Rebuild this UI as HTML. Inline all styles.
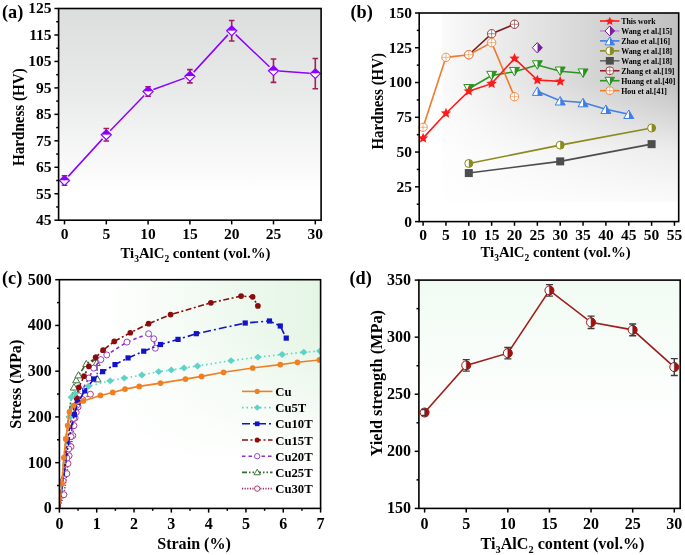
<!DOCTYPE html><html><head><meta charset="utf-8"><style>html,body{margin:0;padding:0;background:#fff;width:685px;height:555px;overflow:hidden}svg{display:block;will-change:transform}</style></head><body>
<svg width="685" height="555" viewBox="0 0 685 555" font-family="'Liberation Serif', serif" font-weight="bold">
<defs>
<linearGradient id="ga" x1="0" y1="0" x2="0" y2="1"><stop offset="0" stop-color="#dcdedd"/><stop offset="0.4" stop-color="#e9ebea"/><stop offset="0.88" stop-color="#ffffff"/></linearGradient>
<linearGradient id="gb" gradientUnits="userSpaceOnUse" x1="442" y1="0" x2="679" y2="0"><stop offset="0" stop-color="#fafafa"/><stop offset="1" stop-color="#c0c0c0"/></linearGradient>
<linearGradient id="gb2" gradientUnits="userSpaceOnUse" x1="0" y1="82" x2="0" y2="202"><stop offset="0" stop-color="#ffffff" stop-opacity="0"/><stop offset="0.57" stop-color="#ffffff" stop-opacity="0.7"/><stop offset="1" stop-color="#ffffff" stop-opacity="0.93"/></linearGradient>
<linearGradient id="gc" gradientUnits="userSpaceOnUse" x1="98" y1="0" x2="321" y2="0"><stop offset="0" stop-color="#ffffff"/><stop offset="1" stop-color="#e4f5e5"/></linearGradient>
<linearGradient id="gc2" gradientUnits="userSpaceOnUse" x1="0" y1="330" x2="0" y2="470"><stop offset="0" stop-color="#ffffff" stop-opacity="0"/><stop offset="1" stop-color="#ffffff" stop-opacity="1"/></linearGradient>
<linearGradient id="gd" x1="0" y1="0" x2="0" y2="1"><stop offset="0" stop-color="#f1fbf3"/><stop offset="0.65" stop-color="#ffffff"/></linearGradient>
</defs>
<rect x="58.6" y="8.5" width="262.5" height="211.7" fill="url(#ga)"/>
<path fill="none" stroke="#8c00ff" stroke-width="1.5" d="M68.28 176.37L102.52 138.87M110.19 130.71L144.21 95.5M153.36 89.56L184.64 78.17M193.69 72.13L227.91 34.87M235.75 34.62L269.45 66.83M279.09 71.09L309.71 73.22"/>
<path d="M64.5 175.75V185.27M61.7 175.75H67.3M61.7 185.27H67.3" stroke="#a0205a" stroke-width="1.6" fill="none"/>
<path d="M59.4 180.51L64.5 175.61L69.6 180.51Z" fill="#8c00ff"/>
<path d="M59.4 180.51L64.5 185.41L69.6 180.51Z" fill="#fff"/>
<path d="M59.4 180.51L64.5 175.61L69.6 180.51L64.5 185.41Z" fill="none" stroke="#8c00ff" stroke-width="1.1"/>
<path d="M106.3 128.52V140.95M103.5 128.52H109.1M103.5 140.95H109.1" stroke="#a0205a" stroke-width="1.6" fill="none"/>
<path d="M101.2 134.73L106.3 129.83L111.4 134.73Z" fill="#8c00ff"/>
<path d="M101.2 134.73L106.3 139.63L111.4 134.73Z" fill="#fff"/>
<path d="M101.2 134.73L106.3 129.83L111.4 134.73L106.3 139.63Z" fill="none" stroke="#8c00ff" stroke-width="1.1"/>
<path d="M148.1 86.71V96.23M145.3 86.71H150.9M145.3 96.23H150.9" stroke="#a0205a" stroke-width="1.6" fill="none"/>
<path d="M143 91.47L148.1 86.57L153.2 91.47Z" fill="#8c00ff"/>
<path d="M143 91.47L148.1 96.37L153.2 91.47Z" fill="#fff"/>
<path d="M143 91.47L148.1 86.57L153.2 91.47L148.1 96.37Z" fill="none" stroke="#8c00ff" stroke-width="1.1"/>
<path d="M189.9 69.64V82.87M187.1 69.64H192.7M187.1 82.87H192.7" stroke="#a0205a" stroke-width="1.6" fill="none"/>
<path d="M184.8 76.26L189.9 71.36L195 76.26Z" fill="#8c00ff"/>
<path d="M184.8 76.26L189.9 81.16L195 76.26Z" fill="#fff"/>
<path d="M184.8 76.26L189.9 71.36L195 76.26L189.9 81.16Z" fill="none" stroke="#8c00ff" stroke-width="1.1"/>
<path d="M231.7 20.43V41.07M228.9 20.43H234.5M228.9 41.07H234.5" stroke="#a0205a" stroke-width="1.6" fill="none"/>
<path d="M226.6 30.75L231.7 25.85L236.8 30.75Z" fill="#8c00ff"/>
<path d="M226.6 30.75L231.7 35.65L236.8 30.75Z" fill="#fff"/>
<path d="M226.6 30.75L231.7 25.85L236.8 30.75L231.7 35.65Z" fill="none" stroke="#8c00ff" stroke-width="1.1"/>
<path d="M273.5 59.06V82.34M270.7 59.06H276.3M270.7 82.34H276.3" stroke="#a0205a" stroke-width="1.6" fill="none"/>
<path d="M268.4 70.7L273.5 65.8L278.6 70.7Z" fill="#8c00ff"/>
<path d="M268.4 70.7L273.5 75.6L278.6 70.7Z" fill="#fff"/>
<path d="M268.4 70.7L273.5 65.8L278.6 70.7L273.5 75.6Z" fill="none" stroke="#8c00ff" stroke-width="1.1"/>
<path d="M315.3 58.53V88.69M312.5 58.53H318.1M312.5 88.69H318.1" stroke="#a0205a" stroke-width="1.6" fill="none"/>
<path d="M310.2 73.61L315.3 68.71L320.4 73.61Z" fill="#8c00ff"/>
<path d="M310.2 73.61L315.3 78.51L320.4 73.61Z" fill="#fff"/>
<path d="M310.2 73.61L315.3 68.71L320.4 73.61L315.3 78.51Z" fill="none" stroke="#8c00ff" stroke-width="1.1"/>
<rect x="58.6" y="8.5" width="262.5" height="211.7" fill="none" stroke="#000" stroke-width="1.6"/>
<line x1="58.6" y1="220.2" x2="54.4" y2="220.2" stroke="#000" stroke-width="1.5"/>
<line x1="58.6" y1="193.74" x2="54.4" y2="193.74" stroke="#000" stroke-width="1.5"/>
<line x1="58.6" y1="167.28" x2="54.4" y2="167.28" stroke="#000" stroke-width="1.5"/>
<line x1="58.6" y1="140.82" x2="54.4" y2="140.82" stroke="#000" stroke-width="1.5"/>
<line x1="58.6" y1="114.36" x2="54.4" y2="114.36" stroke="#000" stroke-width="1.5"/>
<line x1="58.6" y1="87.9" x2="54.4" y2="87.9" stroke="#000" stroke-width="1.5"/>
<line x1="58.6" y1="61.44" x2="54.4" y2="61.44" stroke="#000" stroke-width="1.5"/>
<line x1="58.6" y1="34.98" x2="54.4" y2="34.98" stroke="#000" stroke-width="1.5"/>
<line x1="58.6" y1="8.52" x2="54.4" y2="8.52" stroke="#000" stroke-width="1.5"/>
<line x1="58.6" y1="206.97" x2="56.2" y2="206.97" stroke="#000" stroke-width="1.5"/>
<line x1="58.6" y1="180.51" x2="56.2" y2="180.51" stroke="#000" stroke-width="1.5"/>
<line x1="58.6" y1="154.05" x2="56.2" y2="154.05" stroke="#000" stroke-width="1.5"/>
<line x1="58.6" y1="127.59" x2="56.2" y2="127.59" stroke="#000" stroke-width="1.5"/>
<line x1="58.6" y1="101.13" x2="56.2" y2="101.13" stroke="#000" stroke-width="1.5"/>
<line x1="58.6" y1="74.67" x2="56.2" y2="74.67" stroke="#000" stroke-width="1.5"/>
<line x1="58.6" y1="48.21" x2="56.2" y2="48.21" stroke="#000" stroke-width="1.5"/>
<line x1="58.6" y1="21.75" x2="56.2" y2="21.75" stroke="#000" stroke-width="1.5"/>
<line x1="64.5" y1="220.2" x2="64.5" y2="224.4" stroke="#000" stroke-width="1.5"/>
<line x1="106.3" y1="220.2" x2="106.3" y2="224.4" stroke="#000" stroke-width="1.5"/>
<line x1="148.1" y1="220.2" x2="148.1" y2="224.4" stroke="#000" stroke-width="1.5"/>
<line x1="189.9" y1="220.2" x2="189.9" y2="224.4" stroke="#000" stroke-width="1.5"/>
<line x1="231.7" y1="220.2" x2="231.7" y2="224.4" stroke="#000" stroke-width="1.5"/>
<line x1="273.5" y1="220.2" x2="273.5" y2="224.4" stroke="#000" stroke-width="1.5"/>
<line x1="315.3" y1="220.2" x2="315.3" y2="224.4" stroke="#000" stroke-width="1.5"/>
<text x="51.6" y="225.1" font-size="15.5" text-anchor="end">45</text>
<text x="51.6" y="198.64" font-size="15.5" text-anchor="end">55</text>
<text x="51.6" y="172.18" font-size="15.5" text-anchor="end">65</text>
<text x="51.6" y="145.72" font-size="15.5" text-anchor="end">75</text>
<text x="51.6" y="119.26" font-size="15.5" text-anchor="end">85</text>
<text x="51.6" y="92.8" font-size="15.5" text-anchor="end">95</text>
<text x="51.6" y="66.34" font-size="15.5" text-anchor="end">105</text>
<text x="51.6" y="39.88" font-size="15.5" text-anchor="end">115</text>
<text x="51.6" y="13.42" font-size="15.5" text-anchor="end">125</text>
<text x="64.5" y="239" font-size="15.5" text-anchor="middle">0</text>
<text x="106.3" y="239" font-size="15.5" text-anchor="middle">5</text>
<text x="148.1" y="239" font-size="15.5" text-anchor="middle">10</text>
<text x="189.9" y="239" font-size="15.5" text-anchor="middle">15</text>
<text x="231.7" y="239" font-size="15.5" text-anchor="middle">20</text>
<text x="273.5" y="239" font-size="15.5" text-anchor="middle">25</text>
<text x="315.3" y="239" font-size="15.5" text-anchor="middle">30</text>
<text x="120.5" y="257.9" font-size="15.5" textLength="150" lengthAdjust="spacingAndGlyphs">Ti<tspan font-size="9.92" dy="3.72">3</tspan><tspan dy="-3.72">AlC</tspan><tspan font-size="9.92" dy="3.72">2</tspan><tspan dy="-3.72"> content (vol.%)</tspan></text>
<text transform="translate(23.6,117.15) rotate(-90)" font-size="16" text-anchor="middle" textLength="97.8" lengthAdjust="spacingAndGlyphs">Hardness (HV)</text>
<text x="2.0" y="17.8" font-size="18.3">(a)</text>
<rect x="419.2" y="13" width="259.50000000000006" height="208.6" fill="#fff"/>
<rect x="442" y="13" width="236.70000000000005" height="189" fill="url(#gb)"/>
<rect x="442" y="13" width="236.70000000000005" height="189" fill="url(#gb2)"/>
<polyline fill="none" stroke="#4d4d4d" stroke-width="1.6" points="468.8,173.06 560.2,161.38 651.6,144.14"/>
<polyline fill="none" stroke="#8a8a1e" stroke-width="1.6" points="468.8,163.47 560.2,145.11 651.6,128.01"/>
<polyline fill="none" stroke="#3f7fe6" stroke-width="1.6" points="537.35,91.15 560.2,100.75 583.05,102.56 605.9,109.23 628.75,114.24"/>
<polyline fill="none" stroke="#2a9420" stroke-width="1.6" points="468.8,88.79 491.65,75.58 514.5,71.68 537.35,65.01 560.2,71.27 583.05,73.21"/>
<polyline fill="none" stroke="#7b1c1c" stroke-width="1.6" points="468.8,54.72 491.65,33.72 514.5,24.26"/>
<polyline fill="none" stroke="#f07a2a" stroke-width="1.6" points="423.1,127.31 445.95,57.36 468.8,54.72 491.65,42.62 514.5,96.72"/>
<polyline fill="none" stroke="#ff1a1a" stroke-width="1.6" points="423.1,138.16 445.95,113.26 468.8,91.15 491.65,83.64 514.5,58.47 537.35,80.03 560.2,81.42"/>
<rect x="464.8" y="169.06" width="8" height="8" fill="#4d4d4d"/>
<rect x="556.2" y="157.38" width="8" height="8" fill="#4d4d4d"/>
<rect x="647.6" y="140.14" width="8" height="8" fill="#4d4d4d"/>
<circle cx="468.8" cy="163.47" r="4" fill="#fff" stroke="#8a8a1e" stroke-width="1.0"/>
<path d="M468.8 159.47A4 4 0 0 1 468.8 167.47Z" fill="#8a8a1e"/>
<circle cx="560.2" cy="145.11" r="4" fill="#fff" stroke="#8a8a1e" stroke-width="1.0"/>
<path d="M560.2 141.11A4 4 0 0 1 560.2 149.11Z" fill="#8a8a1e"/>
<circle cx="651.6" cy="128.01" r="4" fill="#fff" stroke="#8a8a1e" stroke-width="1.0"/>
<path d="M651.6 124.01A4 4 0 0 1 651.6 132.01Z" fill="#8a8a1e"/>
<path d="M537.35 86.9L542.35 95.4L537.35 95.4Z" fill="#3f7fe6"/>
<path d="M537.35 86.9L532.35 95.4L537.35 95.4Z" fill="#fff"/>
<path d="M537.35 86.9L542.35 95.4L532.35 95.4Z" fill="none" stroke="#3f7fe6" stroke-width="1.0"/>
<path d="M560.2 96.5L565.2 105L560.2 105Z" fill="#3f7fe6"/>
<path d="M560.2 96.5L555.2 105L560.2 105Z" fill="#fff"/>
<path d="M560.2 96.5L565.2 105L555.2 105Z" fill="none" stroke="#3f7fe6" stroke-width="1.0"/>
<path d="M583.05 98.31L588.05 106.81L583.05 106.81Z" fill="#3f7fe6"/>
<path d="M583.05 98.31L578.05 106.81L583.05 106.81Z" fill="#fff"/>
<path d="M583.05 98.31L588.05 106.81L578.05 106.81Z" fill="none" stroke="#3f7fe6" stroke-width="1.0"/>
<path d="M605.9 104.98L610.9 113.48L605.9 113.48Z" fill="#3f7fe6"/>
<path d="M605.9 104.98L600.9 113.48L605.9 113.48Z" fill="#fff"/>
<path d="M605.9 104.98L610.9 113.48L600.9 113.48Z" fill="none" stroke="#3f7fe6" stroke-width="1.0"/>
<path d="M628.75 109.99L633.75 118.49L628.75 118.49Z" fill="#3f7fe6"/>
<path d="M628.75 109.99L623.75 118.49L628.75 118.49Z" fill="#fff"/>
<path d="M628.75 109.99L633.75 118.49L623.75 118.49Z" fill="none" stroke="#3f7fe6" stroke-width="1.0"/>
<path d="M468.8 93.04L473.8 84.54L468.8 84.54Z" fill="#2a9420"/>
<path d="M468.8 93.04L463.8 84.54L468.8 84.54Z" fill="#fff"/>
<path d="M468.8 93.04L473.8 84.54L463.8 84.54Z" fill="none" stroke="#2a9420" stroke-width="1.0"/>
<path d="M491.65 79.83L496.65 71.33L491.65 71.33Z" fill="#2a9420"/>
<path d="M491.65 79.83L486.65 71.33L491.65 71.33Z" fill="#fff"/>
<path d="M491.65 79.83L496.65 71.33L486.65 71.33Z" fill="none" stroke="#2a9420" stroke-width="1.0"/>
<path d="M514.5 75.93L519.5 67.43L514.5 67.43Z" fill="#2a9420"/>
<path d="M514.5 75.93L509.5 67.43L514.5 67.43Z" fill="#fff"/>
<path d="M514.5 75.93L519.5 67.43L509.5 67.43Z" fill="none" stroke="#2a9420" stroke-width="1.0"/>
<path d="M537.35 69.26L542.35 60.76L537.35 60.76Z" fill="#2a9420"/>
<path d="M537.35 69.26L532.35 60.76L537.35 60.76Z" fill="#fff"/>
<path d="M537.35 69.26L542.35 60.76L532.35 60.76Z" fill="none" stroke="#2a9420" stroke-width="1.0"/>
<path d="M560.2 75.52L565.2 67.02L560.2 67.02Z" fill="#2a9420"/>
<path d="M560.2 75.52L555.2 67.02L560.2 67.02Z" fill="#fff"/>
<path d="M560.2 75.52L565.2 67.02L555.2 67.02Z" fill="none" stroke="#2a9420" stroke-width="1.0"/>
<path d="M583.05 77.46L588.05 68.96L583.05 68.96Z" fill="#2a9420"/>
<path d="M583.05 77.46L578.05 68.96L583.05 68.96Z" fill="#fff"/>
<path d="M583.05 77.46L588.05 68.96L578.05 68.96Z" fill="none" stroke="#2a9420" stroke-width="1.0"/>
<circle cx="468.8" cy="54.72" r="4.2" fill="#fff" stroke="#7b1c1c" stroke-width="1.0" stroke-opacity="0.8"/>
<path d="M464.6 54.72H473M468.8 50.52V58.92" stroke="#7b1c1c" stroke-width="0.7" stroke-opacity="0.75"/>
<circle cx="491.65" cy="33.72" r="4.2" fill="#fff" stroke="#7b1c1c" stroke-width="1.0" stroke-opacity="0.8"/>
<path d="M487.45 33.72H495.85M491.65 29.52V37.92" stroke="#7b1c1c" stroke-width="0.7" stroke-opacity="0.75"/>
<circle cx="514.5" cy="24.26" r="4.2" fill="#fff" stroke="#7b1c1c" stroke-width="1.0" stroke-opacity="0.8"/>
<path d="M510.3 24.26H518.7M514.5 20.06V28.46" stroke="#7b1c1c" stroke-width="0.7" stroke-opacity="0.75"/>
<circle cx="423.1" cy="127.31" r="4.2" fill="#fff" stroke="#f07a2a" stroke-width="1.0" stroke-opacity="0.8"/>
<path d="M418.9 127.31H427.3M423.1 123.11V131.51" stroke="#f07a2a" stroke-width="0.7" stroke-opacity="0.75"/>
<circle cx="445.95" cy="57.36" r="4.2" fill="#fff" stroke="#f07a2a" stroke-width="1.0" stroke-opacity="0.8"/>
<path d="M441.75 57.36H450.15M445.95 53.16V61.56" stroke="#f07a2a" stroke-width="0.7" stroke-opacity="0.75"/>
<circle cx="468.8" cy="54.72" r="4.2" fill="#fff" stroke="#f07a2a" stroke-width="1.0" stroke-opacity="0.8"/>
<path d="M464.6 54.72H473M468.8 50.52V58.92" stroke="#f07a2a" stroke-width="0.7" stroke-opacity="0.75"/>
<circle cx="491.65" cy="42.62" r="4.2" fill="#fff" stroke="#f07a2a" stroke-width="1.0" stroke-opacity="0.8"/>
<path d="M487.45 42.62H495.85M491.65 38.42V46.82" stroke="#f07a2a" stroke-width="0.7" stroke-opacity="0.75"/>
<circle cx="514.5" cy="96.72" r="4.2" fill="#fff" stroke="#f07a2a" stroke-width="1.0" stroke-opacity="0.8"/>
<path d="M510.3 96.72H518.7M514.5 92.52V100.92" stroke="#f07a2a" stroke-width="0.7" stroke-opacity="0.75"/>
<path d="M423.1,132.76 L424.57,136.14 L428.24,136.49 L425.48,138.93 L426.27,142.53 L423.1,140.66 L419.93,142.53 L420.72,138.93 L417.96,136.49 L421.63,136.14Z" fill="#ff1a1a"/>
<path d="M445.95,107.86 L447.42,111.24 L451.09,111.6 L448.33,114.04 L449.12,117.63 L445.95,115.76 L442.78,117.63 L443.57,114.04 L440.81,111.6 L444.48,111.24Z" fill="#ff1a1a"/>
<path d="M468.8,85.75 L470.27,89.13 L473.94,89.48 L471.18,91.92 L471.97,95.52 L468.8,93.65 L465.63,95.52 L466.42,91.92 L463.66,89.48 L467.33,89.13Z" fill="#ff1a1a"/>
<path d="M491.65,78.24 L493.12,81.62 L496.79,81.97 L494.03,84.42 L494.82,88.01 L491.65,86.14 L488.48,88.01 L489.27,84.42 L486.51,81.97 L490.18,81.62Z" fill="#ff1a1a"/>
<path d="M514.5,53.07 L515.97,56.45 L519.64,56.8 L516.88,59.24 L517.67,62.84 L514.5,60.97 L511.33,62.84 L512.12,59.24 L509.36,56.8 L513.03,56.45Z" fill="#ff1a1a"/>
<path d="M537.35,74.63 L538.82,78 L542.49,78.36 L539.73,80.8 L540.52,84.4 L537.35,82.53 L534.18,84.4 L534.97,80.8 L532.21,78.36 L535.88,78Z" fill="#ff1a1a"/>
<path d="M560.2,76.02 L561.67,79.39 L565.34,79.75 L562.58,82.19 L563.37,85.79 L560.2,83.92 L557.03,85.79 L557.82,82.19 L555.06,79.75 L558.73,79.39Z" fill="#ff1a1a"/>
<path d="M537.35 42.56L542.35 47.76L537.35 52.96Z" fill="#7a1fa0"/>
<path d="M537.35 42.56L532.35 47.76L537.35 52.96Z" fill="#fff"/>
<path d="M537.35 42.56L542.35 47.76L537.35 52.96L532.35 47.76Z" fill="none" stroke="#7a1fa0" stroke-width="1.0"/>
<line x1="600" y1="21" x2="619.5" y2="21" stroke="#ff1a1a" stroke-width="1.6"/>
<path d="M609.8,16.8 L611.09,19.62 L614.17,19.98 L611.89,22.08 L612.5,25.12 L609.8,23.6 L607.1,25.12 L607.71,22.08 L605.43,19.98 L608.51,19.62Z" fill="#ff1a1a"/>
<text x="621.2" y="23.9" font-size="7.9">This work</text>
<line x1="600" y1="30.95" x2="619.5" y2="30.95" stroke="#c08ae0" stroke-width="1.6"/>
<path d="M609.8 25.95L614.6 30.95L609.8 35.95Z" fill="#7a1fa0"/>
<path d="M609.8 25.95L605 30.95L609.8 35.95Z" fill="#fff"/>
<path d="M609.8 25.95L614.6 30.95L609.8 35.95L605 30.95Z" fill="none" stroke="#7a1fa0" stroke-width="1.0"/>
<text x="621.2" y="33.85" font-size="7.9">Wang et al.[15]</text>
<line x1="600" y1="40.9" x2="619.5" y2="40.9" stroke="#3f7fe6" stroke-width="1.6"/>
<path d="M609.8 36.9L614.6 44.9L609.8 44.9Z" fill="#3f7fe6"/>
<path d="M609.8 36.9L605 44.9L609.8 44.9Z" fill="#fff"/>
<path d="M609.8 36.9L614.6 44.9L605 44.9Z" fill="none" stroke="#3f7fe6" stroke-width="1.0"/>
<text x="621.2" y="43.8" font-size="7.9">Zhao et al.[16]</text>
<line x1="600" y1="50.85" x2="619.5" y2="50.85" stroke="#8a8a1e" stroke-width="1.6"/>
<circle cx="609.8" cy="50.85" r="4" fill="#fff" stroke="#8a8a1e" stroke-width="1.0"/>
<path d="M609.8 46.85A4 4 0 0 1 609.8 54.85Z" fill="#8a8a1e"/>
<text x="621.2" y="53.75" font-size="7.9">Wang et al.[18]</text>
<line x1="600" y1="60.8" x2="619.5" y2="60.8" stroke="#6a6a6a" stroke-width="1.6"/>
<rect x="605.8" y="57" width="8" height="7.6" fill="#4d4d4d"/>
<text x="621.2" y="63.7" font-size="7.9">Wang et al.[18]</text>
<line x1="600" y1="70.75" x2="619.5" y2="70.75" stroke="#8b2020" stroke-width="1.6"/>
<circle cx="609.8" cy="70.75" r="4" fill="#fff" stroke="#8b2020" stroke-width="1.0" stroke-opacity="0.8"/>
<path d="M605.8 70.75H613.8M609.8 66.75V74.75" stroke="#8b2020" stroke-width="0.7" stroke-opacity="0.75"/>
<text x="621.2" y="73.65" font-size="7.9">Zhang et al.[19]</text>
<line x1="600" y1="80.7" x2="619.5" y2="80.7" stroke="#2a9420" stroke-width="1.6"/>
<path d="M609.8 85.3L614.6 77.3L609.8 77.3Z" fill="#2a9420"/>
<path d="M609.8 85.3L605 77.3L609.8 77.3Z" fill="#fff"/>
<path d="M609.8 85.3L614.6 77.3L605 77.3Z" fill="none" stroke="#2a9420" stroke-width="1.0"/>
<text x="621.2" y="83.6" font-size="7.9">Huang et al.[40]</text>
<line x1="600" y1="90.65" x2="619.5" y2="90.65" stroke="#f07a2a" stroke-width="1.6"/>
<circle cx="609.8" cy="90.65" r="4" fill="#fff" stroke="#f07a2a" stroke-width="1.0" stroke-opacity="0.8"/>
<path d="M605.8 90.65H613.8M609.8 86.65V94.65" stroke="#f07a2a" stroke-width="0.7" stroke-opacity="0.75"/>
<text x="621.2" y="93.55" font-size="7.9">Hou et al.[41]</text>
<rect x="419.2" y="13" width="259.5" height="208.6" fill="none" stroke="#000" stroke-width="1.6"/>
<line x1="419.2" y1="221.6" x2="415" y2="221.6" stroke="#000" stroke-width="1.5"/>
<line x1="419.2" y1="186.83" x2="415" y2="186.83" stroke="#000" stroke-width="1.5"/>
<line x1="419.2" y1="152.06" x2="415" y2="152.06" stroke="#000" stroke-width="1.5"/>
<line x1="419.2" y1="117.3" x2="415" y2="117.3" stroke="#000" stroke-width="1.5"/>
<line x1="419.2" y1="82.53" x2="415" y2="82.53" stroke="#000" stroke-width="1.5"/>
<line x1="419.2" y1="47.76" x2="415" y2="47.76" stroke="#000" stroke-width="1.5"/>
<line x1="419.2" y1="12.99" x2="415" y2="12.99" stroke="#000" stroke-width="1.5"/>
<line x1="419.2" y1="204.22" x2="416.8" y2="204.22" stroke="#000" stroke-width="1.5"/>
<line x1="419.2" y1="169.45" x2="416.8" y2="169.45" stroke="#000" stroke-width="1.5"/>
<line x1="419.2" y1="134.68" x2="416.8" y2="134.68" stroke="#000" stroke-width="1.5"/>
<line x1="419.2" y1="99.91" x2="416.8" y2="99.91" stroke="#000" stroke-width="1.5"/>
<line x1="419.2" y1="65.15" x2="416.8" y2="65.15" stroke="#000" stroke-width="1.5"/>
<line x1="419.2" y1="30.38" x2="416.8" y2="30.38" stroke="#000" stroke-width="1.5"/>
<line x1="423.1" y1="221.6" x2="423.1" y2="225.8" stroke="#000" stroke-width="1.5"/>
<line x1="445.95" y1="221.6" x2="445.95" y2="225.8" stroke="#000" stroke-width="1.5"/>
<line x1="468.8" y1="221.6" x2="468.8" y2="225.8" stroke="#000" stroke-width="1.5"/>
<line x1="491.65" y1="221.6" x2="491.65" y2="225.8" stroke="#000" stroke-width="1.5"/>
<line x1="514.5" y1="221.6" x2="514.5" y2="225.8" stroke="#000" stroke-width="1.5"/>
<line x1="537.35" y1="221.6" x2="537.35" y2="225.8" stroke="#000" stroke-width="1.5"/>
<line x1="560.2" y1="221.6" x2="560.2" y2="225.8" stroke="#000" stroke-width="1.5"/>
<line x1="583.05" y1="221.6" x2="583.05" y2="225.8" stroke="#000" stroke-width="1.5"/>
<line x1="605.9" y1="221.6" x2="605.9" y2="225.8" stroke="#000" stroke-width="1.5"/>
<line x1="628.75" y1="221.6" x2="628.75" y2="225.8" stroke="#000" stroke-width="1.5"/>
<line x1="651.6" y1="221.6" x2="651.6" y2="225.8" stroke="#000" stroke-width="1.5"/>
<line x1="674.45" y1="221.6" x2="674.45" y2="225.8" stroke="#000" stroke-width="1.5"/>
<text x="411.9" y="226.5" font-size="15.5" text-anchor="end">0</text>
<text x="411.9" y="191.73" font-size="15.5" text-anchor="end">25</text>
<text x="411.9" y="156.97" font-size="15.5" text-anchor="end">50</text>
<text x="411.9" y="122.2" font-size="15.5" text-anchor="end">75</text>
<text x="411.9" y="87.43" font-size="15.5" text-anchor="end">100</text>
<text x="411.9" y="52.66" font-size="15.5" text-anchor="end">125</text>
<text x="411.9" y="17.89" font-size="15.5" text-anchor="end">150</text>
<text x="423.1" y="240.3" font-size="15.5" text-anchor="middle">0</text>
<text x="445.95" y="240.3" font-size="15.5" text-anchor="middle">5</text>
<text x="468.8" y="240.3" font-size="15.5" text-anchor="middle">10</text>
<text x="491.65" y="240.3" font-size="15.5" text-anchor="middle">15</text>
<text x="514.5" y="240.3" font-size="15.5" text-anchor="middle">20</text>
<text x="537.35" y="240.3" font-size="15.5" text-anchor="middle">25</text>
<text x="560.2" y="240.3" font-size="15.5" text-anchor="middle">30</text>
<text x="583.05" y="240.3" font-size="15.5" text-anchor="middle">35</text>
<text x="605.9" y="240.3" font-size="15.5" text-anchor="middle">40</text>
<text x="628.75" y="240.3" font-size="15.5" text-anchor="middle">45</text>
<text x="651.6" y="240.3" font-size="15.5" text-anchor="middle">50</text>
<text x="674.45" y="240.3" font-size="15.5" text-anchor="middle">55</text>
<text x="480.5" y="257.2" font-size="15.2" textLength="150.3" lengthAdjust="spacingAndGlyphs">Ti<tspan font-size="9.73" dy="3.65">3</tspan><tspan dy="-3.65">AlC</tspan><tspan font-size="9.73" dy="3.65">2</tspan><tspan dy="-3.65"> content (vol.%)</tspan></text>
<text transform="translate(382.6,101.3) rotate(-90)" font-size="16" text-anchor="middle" textLength="96.5" lengthAdjust="spacingAndGlyphs">Hardness (HV)</text>
<text x="350.4" y="17.8" font-size="18.3">(b)</text>
<rect x="59.4" y="279.7" width="261.20000000000005" height="228.7" fill="#fff"/>
<rect x="98" y="279.7" width="222.60000000000002" height="228.7" fill="url(#gc)"/>
<rect x="98" y="279.7" width="222.60000000000002" height="228.7" fill="url(#gc2)"/>
<clipPath id="cclip"><rect x="59.4" y="279.7" width="261.20000000000005" height="228.7"/></clipPath>
<g clip-path="url(#cclip)">
<polyline fill="none" stroke="#a3286e" stroke-width="1.6" stroke-dasharray="1.2 1.4" stroke-linejoin="round" points="59.4,508.4 63.88,494.68 66.86,473.64 67.98,463.57 69.1,455.8 70.97,446.65 72.83,435.67 73.95,425.61 75.07,417.83 76.19,412.35 78.06,406.86 82.53,399.54 90.37,394.19"/>
<circle cx="63.88" cy="494.68" r="3.0" fill="#fff" stroke="#a3286e" stroke-width="0.9"/>
<circle cx="66.86" cy="473.64" r="3.0" fill="#fff" stroke="#a3286e" stroke-width="0.9"/>
<circle cx="67.98" cy="463.57" r="3.0" fill="#fff" stroke="#a3286e" stroke-width="0.9"/>
<circle cx="69.1" cy="455.8" r="3.0" fill="#fff" stroke="#a3286e" stroke-width="0.9"/>
<circle cx="70.97" cy="446.65" r="3.0" fill="#fff" stroke="#a3286e" stroke-width="0.9"/>
<circle cx="72.83" cy="435.67" r="3.0" fill="#fff" stroke="#a3286e" stroke-width="0.9"/>
<circle cx="73.95" cy="425.61" r="3.0" fill="#fff" stroke="#a3286e" stroke-width="0.9"/>
<circle cx="75.07" cy="417.83" r="3.0" fill="#fff" stroke="#a3286e" stroke-width="0.9"/>
<circle cx="76.19" cy="412.35" r="3.0" fill="#fff" stroke="#a3286e" stroke-width="0.9"/>
<circle cx="78.06" cy="406.86" r="3.0" fill="#fff" stroke="#a3286e" stroke-width="0.9"/>
<circle cx="82.53" cy="399.54" r="3.0" fill="#fff" stroke="#a3286e" stroke-width="0.9"/>
<circle cx="90.37" cy="394.19" r="3.0" fill="#fff" stroke="#a3286e" stroke-width="0.9"/>
<polyline fill="none" stroke="#2f6a2f" stroke-width="1.6" stroke-dasharray="5 2 1.5 2 1.5 2" stroke-linejoin="round" points="59.4,508.4 63.13,467.23 66.86,430.64 70.59,402.28 73.95,387.42 76.19,380.19 78.43,375.3 86.26,364 95.96,357.92 96.71,362.95 97.46,379.32"/>
<path d="M73.95 383.82L77.55 390.02L70.35 390.02Z" fill="#fff" stroke="#2f6a2f" stroke-width="0.9"/>
<path d="M76.19 376.59L79.79 382.79L72.59 382.79Z" fill="#fff" stroke="#2f6a2f" stroke-width="0.9"/>
<path d="M78.43 371.7L82.03 377.9L74.83 377.9Z" fill="#fff" stroke="#2f6a2f" stroke-width="0.9"/>
<path d="M86.26 360.4L89.86 366.6L82.66 366.6Z" fill="#fff" stroke="#2f6a2f" stroke-width="0.9"/>
<path d="M95.96 354.32L99.56 360.52L92.36 360.52Z" fill="#fff" stroke="#2f6a2f" stroke-width="0.9"/>
<path d="M96.71 359.35L100.31 365.55L93.11 365.55Z" fill="#fff" stroke="#2f6a2f" stroke-width="0.9"/>
<path d="M97.46 375.72L101.06 381.92L93.86 381.92Z" fill="#fff" stroke="#2f6a2f" stroke-width="0.9"/>
<polyline fill="none" stroke="#9030c0" stroke-width="1.6" stroke-dasharray="3.5 3" stroke-linejoin="round" points="59.4,508.4 63.13,480.96 66.86,458.09 68.73,448.94 70.97,436.59 73.58,418.29 76.56,405.49 81.79,390.99 88.87,378.04 93.73,368.12 100.81,359.61 106.78,354.94 126.93,342.09 148.57,333.72 153.79,338.8 155.29,348.22"/>
<circle cx="63.13" cy="480.96" r="3.0" fill="#fff" stroke="#9030c0" stroke-width="0.9"/>
<circle cx="66.86" cy="458.09" r="3.0" fill="#fff" stroke="#9030c0" stroke-width="0.9"/>
<circle cx="68.73" cy="448.94" r="3.0" fill="#fff" stroke="#9030c0" stroke-width="0.9"/>
<circle cx="70.97" cy="436.59" r="3.0" fill="#fff" stroke="#9030c0" stroke-width="0.9"/>
<circle cx="73.58" cy="418.29" r="3.0" fill="#fff" stroke="#9030c0" stroke-width="0.9"/>
<circle cx="76.56" cy="405.49" r="3.0" fill="#fff" stroke="#9030c0" stroke-width="0.9"/>
<circle cx="81.79" cy="390.99" r="3.0" fill="#fff" stroke="#9030c0" stroke-width="0.9"/>
<circle cx="88.87" cy="378.04" r="3.0" fill="#fff" stroke="#9030c0" stroke-width="0.9"/>
<circle cx="93.73" cy="368.12" r="3.0" fill="#fff" stroke="#9030c0" stroke-width="0.9"/>
<circle cx="100.81" cy="359.61" r="3.0" fill="#fff" stroke="#9030c0" stroke-width="0.9"/>
<circle cx="106.78" cy="354.94" r="3.0" fill="#fff" stroke="#9030c0" stroke-width="0.9"/>
<circle cx="126.93" cy="342.09" r="3.0" fill="#fff" stroke="#9030c0" stroke-width="0.9"/>
<circle cx="148.57" cy="333.72" r="3.0" fill="#fff" stroke="#9030c0" stroke-width="0.9"/>
<circle cx="153.79" cy="338.8" r="3.0" fill="#fff" stroke="#9030c0" stroke-width="0.9"/>
<circle cx="155.29" cy="348.22" r="3.0" fill="#fff" stroke="#9030c0" stroke-width="0.9"/>
<polyline fill="none" stroke="#8b0c0c" stroke-width="1.6" stroke-dasharray="6 2.5 2 2.5" stroke-linejoin="round" points="59.4,508.4 63.13,476.38 66.86,444.36 70.59,421.49 74.32,405.49 76.56,398.17 78.8,387.42 84.02,376.21 88.87,366.29 95.59,357.46 103.05,350.14 114.25,341.45 130.29,332.76 148.57,323.7 170.58,314.6 210.88,302.8 241.1,296.12 252.67,296.81 257.89,305.91"/>
<circle cx="74.32" cy="405.49" r="2.85" fill="#8b0c0c"/>
<circle cx="76.56" cy="398.17" r="2.85" fill="#8b0c0c"/>
<circle cx="78.8" cy="387.42" r="2.85" fill="#8b0c0c"/>
<circle cx="84.02" cy="376.21" r="2.85" fill="#8b0c0c"/>
<circle cx="88.87" cy="366.29" r="2.85" fill="#8b0c0c"/>
<circle cx="95.59" cy="357.46" r="2.85" fill="#8b0c0c"/>
<circle cx="103.05" cy="350.14" r="2.85" fill="#8b0c0c"/>
<circle cx="114.25" cy="341.45" r="2.85" fill="#8b0c0c"/>
<circle cx="130.29" cy="332.76" r="2.85" fill="#8b0c0c"/>
<circle cx="148.57" cy="323.7" r="2.85" fill="#8b0c0c"/>
<circle cx="170.58" cy="314.6" r="2.85" fill="#8b0c0c"/>
<circle cx="210.88" cy="302.8" r="2.85" fill="#8b0c0c"/>
<circle cx="241.1" cy="296.12" r="2.85" fill="#8b0c0c"/>
<circle cx="252.67" cy="296.81" r="2.85" fill="#8b0c0c"/>
<circle cx="257.89" cy="305.91" r="2.85" fill="#8b0c0c"/>
<polyline fill="none" stroke="#1212c8" stroke-width="1.6" stroke-dasharray="8 3 2 3" stroke-linejoin="round" points="59.4,508.4 63.13,480.96 66.86,453.51 70.59,430.64 74.32,414.63 78.06,402.28 84.77,390.85 93.73,378.96 102.68,371.64 114.99,364.59 128.05,357.92 143.72,351.19 160.51,344.51 178.05,339.39 196.33,333.67 245.2,323.02 269.46,321 280.28,325.99 286.24,338.11"/>
<rect x="71.72" y="412.03" width="5.2" height="5.2" fill="#1212c8"/>
<rect x="75.46" y="399.68" width="5.2" height="5.2" fill="#1212c8"/>
<rect x="82.17" y="388.25" width="5.2" height="5.2" fill="#1212c8"/>
<rect x="91.13" y="376.36" width="5.2" height="5.2" fill="#1212c8"/>
<rect x="100.08" y="369.04" width="5.2" height="5.2" fill="#1212c8"/>
<rect x="112.39" y="361.99" width="5.2" height="5.2" fill="#1212c8"/>
<rect x="125.45" y="355.32" width="5.2" height="5.2" fill="#1212c8"/>
<rect x="141.12" y="348.59" width="5.2" height="5.2" fill="#1212c8"/>
<rect x="157.91" y="341.91" width="5.2" height="5.2" fill="#1212c8"/>
<rect x="175.45" y="336.79" width="5.2" height="5.2" fill="#1212c8"/>
<rect x="193.73" y="331.07" width="5.2" height="5.2" fill="#1212c8"/>
<rect x="242.6" y="320.42" width="5.2" height="5.2" fill="#1212c8"/>
<rect x="266.86" y="318.4" width="5.2" height="5.2" fill="#1212c8"/>
<rect x="277.68" y="323.39" width="5.2" height="5.2" fill="#1212c8"/>
<rect x="283.64" y="335.51" width="5.2" height="5.2" fill="#1212c8"/>
<polyline fill="none" stroke="#5cd3c6" stroke-width="1.6" stroke-dasharray="1.5 3" stroke-linejoin="round" points="59.4,508.4 62.38,485.53 64.62,458.09 66.49,442.53 69.1,416.92 71.34,397.25 75.07,393.59 88.5,386.27 110.14,380.79 124.32,378.04 141.86,375.02 158.64,371.64 171.33,369.99 184.02,367.98 197.45,366.01 231.03,360.66 257.89,357.18 282.14,354.48 303.78,352.2 319.82,351.05"/>
<path d="M65.3 416.92L69.1 413.52L72.9 416.92L69.1 420.32Z" fill="#5cd3c6"/>
<path d="M67.54 397.25L71.34 393.85L75.14 397.25L71.34 400.65Z" fill="#5cd3c6"/>
<path d="M71.27 393.59L75.07 390.19L78.87 393.59L75.07 396.99Z" fill="#5cd3c6"/>
<path d="M84.7 386.27L88.5 382.87L92.3 386.27L88.5 389.67Z" fill="#5cd3c6"/>
<path d="M106.34 380.79L110.14 377.39L113.94 380.79L110.14 384.19Z" fill="#5cd3c6"/>
<path d="M120.52 378.04L124.32 374.64L128.12 378.04L124.32 381.44Z" fill="#5cd3c6"/>
<path d="M138.06 375.02L141.86 371.62L145.66 375.02L141.86 378.42Z" fill="#5cd3c6"/>
<path d="M154.84 371.64L158.64 368.24L162.44 371.64L158.64 375.04Z" fill="#5cd3c6"/>
<path d="M167.53 369.99L171.33 366.59L175.13 369.99L171.33 373.39Z" fill="#5cd3c6"/>
<path d="M180.22 367.98L184.02 364.58L187.82 367.98L184.02 371.38Z" fill="#5cd3c6"/>
<path d="M193.65 366.01L197.45 362.61L201.25 366.01L197.45 369.41Z" fill="#5cd3c6"/>
<path d="M227.23 360.66L231.03 357.26L234.83 360.66L231.03 364.06Z" fill="#5cd3c6"/>
<path d="M254.09 357.18L257.89 353.78L261.69 357.18L257.89 360.58Z" fill="#5cd3c6"/>
<path d="M278.34 354.48L282.14 351.08L285.94 354.48L282.14 357.88Z" fill="#5cd3c6"/>
<path d="M299.98 352.2L303.78 348.8L307.58 352.2L303.78 355.6Z" fill="#5cd3c6"/>
<path d="M316.02 351.05L319.82 347.65L323.62 351.05L319.82 354.45Z" fill="#5cd3c6"/>
<polyline fill="none" stroke="#f07f22" stroke-width="1.6" stroke-linejoin="round" points="59.4,508.4 62.01,483.24 63.88,457.63 65.74,438.88 67.61,425.61 69.47,411.89 73.58,405.49 83.28,400.91 100.44,395.42 112.75,392.45 125.07,389.11 139.24,386.41 160.51,383.12 185.51,379.09 201.55,376.39 223.56,372.32 252.67,367.98 280.28,364.59 297.44,362.31 319.45,359.93"/>
<circle cx="62.01" cy="483.24" r="2.85" fill="#f07f22"/>
<circle cx="63.88" cy="457.63" r="2.85" fill="#f07f22"/>
<circle cx="65.74" cy="438.88" r="2.85" fill="#f07f22"/>
<circle cx="67.61" cy="425.61" r="2.85" fill="#f07f22"/>
<circle cx="69.47" cy="411.89" r="2.85" fill="#f07f22"/>
<circle cx="73.58" cy="405.49" r="2.85" fill="#f07f22"/>
<circle cx="83.28" cy="400.91" r="2.85" fill="#f07f22"/>
<circle cx="100.44" cy="395.42" r="2.85" fill="#f07f22"/>
<circle cx="112.75" cy="392.45" r="2.85" fill="#f07f22"/>
<circle cx="125.07" cy="389.11" r="2.85" fill="#f07f22"/>
<circle cx="139.24" cy="386.41" r="2.85" fill="#f07f22"/>
<circle cx="160.51" cy="383.12" r="2.85" fill="#f07f22"/>
<circle cx="185.51" cy="379.09" r="2.85" fill="#f07f22"/>
<circle cx="201.55" cy="376.39" r="2.85" fill="#f07f22"/>
<circle cx="223.56" cy="372.32" r="2.85" fill="#f07f22"/>
<circle cx="252.67" cy="367.98" r="2.85" fill="#f07f22"/>
<circle cx="280.28" cy="364.59" r="2.85" fill="#f07f22"/>
<circle cx="297.44" cy="362.31" r="2.85" fill="#f07f22"/>
<circle cx="319.45" cy="359.93" r="2.85" fill="#f07f22"/>
</g>
<line x1="242" y1="391.4" x2="272.5" y2="391.4" stroke="#f07f22" stroke-width="1.6"/>
<circle cx="257.2" cy="391.4" r="2.56" fill="#f07f22"/>
<text x="275.3" y="395.9" font-size="12.7">Cu</text>
<line x1="242" y1="407.6" x2="272.5" y2="407.6" stroke="#5cd3c6" stroke-width="1.6" stroke-dasharray="1.5 3"/>
<path d="M253.78 407.6L257.2 404.54L260.62 407.6L257.2 410.66Z" fill="#5cd3c6"/>
<text x="275.3" y="412.1" font-size="12.7">Cu5T</text>
<line x1="242" y1="423.8" x2="272.5" y2="423.8" stroke="#1212c8" stroke-width="1.6" stroke-dasharray="8 3 2 3"/>
<rect x="254.86" y="421.46" width="4.68" height="4.68" fill="#1212c8"/>
<text x="275.3" y="428.3" font-size="12.7">Cu10T</text>
<line x1="242" y1="440" x2="272.5" y2="440" stroke="#8b0c0c" stroke-width="1.6" stroke-dasharray="6 2.5 2 2.5"/>
<circle cx="257.2" cy="440" r="2.56" fill="#8b0c0c"/>
<text x="275.3" y="444.5" font-size="12.7">Cu15T</text>
<line x1="242" y1="456.2" x2="272.5" y2="456.2" stroke="#9030c0" stroke-width="1.6" stroke-dasharray="3.5 3"/>
<circle cx="257.2" cy="456.2" r="2.7" fill="#fff" stroke="#9030c0" stroke-width="0.9"/>
<text x="275.3" y="460.7" font-size="12.7">Cu20T</text>
<line x1="242" y1="472.4" x2="272.5" y2="472.4" stroke="#2f6a2f" stroke-width="1.6" stroke-dasharray="5 2 1.5 2 1.5 2"/>
<path d="M257.2 469.16L260.44 474.74L253.96 474.74Z" fill="#fff" stroke="#2f6a2f" stroke-width="0.9"/>
<text x="275.3" y="476.9" font-size="12.7">Cu25T</text>
<line x1="242" y1="488.6" x2="272.5" y2="488.6" stroke="#a3286e" stroke-width="1.6" stroke-dasharray="1.2 1.4"/>
<circle cx="257.2" cy="488.6" r="2.7" fill="#fff" stroke="#a3286e" stroke-width="0.9"/>
<text x="275.3" y="493.1" font-size="12.7">Cu30T</text>
<rect x="59.4" y="279.7" width="261.2" height="228.7" fill="none" stroke="#000" stroke-width="1.6"/>
<line x1="59.4" y1="508.4" x2="55.2" y2="508.4" stroke="#000" stroke-width="1.5"/>
<line x1="59.4" y1="462.66" x2="55.2" y2="462.66" stroke="#000" stroke-width="1.5"/>
<line x1="59.4" y1="416.92" x2="55.2" y2="416.92" stroke="#000" stroke-width="1.5"/>
<line x1="59.4" y1="371.18" x2="55.2" y2="371.18" stroke="#000" stroke-width="1.5"/>
<line x1="59.4" y1="325.44" x2="55.2" y2="325.44" stroke="#000" stroke-width="1.5"/>
<line x1="59.4" y1="279.7" x2="55.2" y2="279.7" stroke="#000" stroke-width="1.5"/>
<line x1="59.4" y1="485.53" x2="57" y2="485.53" stroke="#000" stroke-width="1.5"/>
<line x1="59.4" y1="439.79" x2="57" y2="439.79" stroke="#000" stroke-width="1.5"/>
<line x1="59.4" y1="394.05" x2="57" y2="394.05" stroke="#000" stroke-width="1.5"/>
<line x1="59.4" y1="348.31" x2="57" y2="348.31" stroke="#000" stroke-width="1.5"/>
<line x1="59.4" y1="302.57" x2="57" y2="302.57" stroke="#000" stroke-width="1.5"/>
<line x1="59.4" y1="508.4" x2="59.4" y2="512.6" stroke="#000" stroke-width="1.5"/>
<line x1="96.71" y1="508.4" x2="96.71" y2="512.6" stroke="#000" stroke-width="1.5"/>
<line x1="134.02" y1="508.4" x2="134.02" y2="512.6" stroke="#000" stroke-width="1.5"/>
<line x1="171.33" y1="508.4" x2="171.33" y2="512.6" stroke="#000" stroke-width="1.5"/>
<line x1="208.64" y1="508.4" x2="208.64" y2="512.6" stroke="#000" stroke-width="1.5"/>
<line x1="245.95" y1="508.4" x2="245.95" y2="512.6" stroke="#000" stroke-width="1.5"/>
<line x1="283.26" y1="508.4" x2="283.26" y2="512.6" stroke="#000" stroke-width="1.5"/>
<line x1="320.57" y1="508.4" x2="320.57" y2="512.6" stroke="#000" stroke-width="1.5"/>
<line x1="78.06" y1="508.4" x2="78.06" y2="510.8" stroke="#000" stroke-width="1.5"/>
<line x1="115.37" y1="508.4" x2="115.37" y2="510.8" stroke="#000" stroke-width="1.5"/>
<line x1="152.68" y1="508.4" x2="152.68" y2="510.8" stroke="#000" stroke-width="1.5"/>
<line x1="189.99" y1="508.4" x2="189.99" y2="510.8" stroke="#000" stroke-width="1.5"/>
<line x1="227.3" y1="508.4" x2="227.3" y2="510.8" stroke="#000" stroke-width="1.5"/>
<line x1="264.61" y1="508.4" x2="264.61" y2="510.8" stroke="#000" stroke-width="1.5"/>
<line x1="301.92" y1="508.4" x2="301.92" y2="510.8" stroke="#000" stroke-width="1.5"/>
<text x="51.8" y="513.3" font-size="16" text-anchor="end">0</text>
<text x="51.8" y="467.56" font-size="16" text-anchor="end">100</text>
<text x="51.8" y="421.82" font-size="16" text-anchor="end">200</text>
<text x="51.8" y="376.08" font-size="16" text-anchor="end">300</text>
<text x="51.8" y="330.34" font-size="16" text-anchor="end">400</text>
<text x="51.8" y="284.6" font-size="16" text-anchor="end">500</text>
<text x="59.4" y="528.6" font-size="16" text-anchor="middle">0</text>
<text x="96.71" y="528.6" font-size="16" text-anchor="middle">1</text>
<text x="134.02" y="528.6" font-size="16" text-anchor="middle">2</text>
<text x="171.33" y="528.6" font-size="16" text-anchor="middle">3</text>
<text x="208.64" y="528.6" font-size="16" text-anchor="middle">4</text>
<text x="245.95" y="528.6" font-size="16" text-anchor="middle">5</text>
<text x="283.26" y="528.6" font-size="16" text-anchor="middle">6</text>
<text x="320.57" y="528.6" font-size="16" text-anchor="middle">7</text>
<text x="157.2" y="548.7" font-size="16" textLength="73.7" lengthAdjust="spacingAndGlyphs">Strain (%)</text>
<text transform="translate(20.8,384.2) rotate(-90)" font-size="16" text-anchor="middle" textLength="89" lengthAdjust="spacingAndGlyphs">Stress (MPa)</text>
<text x="2.0" y="283.8" font-size="18.3">(c)</text>
<rect x="418.9" y="280.1" width="261.30000000000007" height="228.29999999999995" fill="url(#gd)"/>
<polyline fill="none" stroke="#a01c1c" stroke-width="1.6" points="424.6,412.51 466.22,365.37 507.83,353.16 549.45,290.37 591.06,322.34 632.68,329.87 674.29,367.08"/>
<circle cx="424.6" cy="412.51" r="4.5" fill="#fff" stroke="#a31010" stroke-width="1.0"/>
<path d="M424.6 408.01A4.5 4.5 0 0 1 424.6 417.01Z" fill="#a31010"/>
<circle cx="466.22" cy="365.37" r="4.5" fill="#fff" stroke="#a31010" stroke-width="1.0"/>
<path d="M466.22 360.87A4.5 4.5 0 0 1 466.22 369.87Z" fill="#a31010"/>
<circle cx="507.83" cy="353.16" r="4.5" fill="#fff" stroke="#a31010" stroke-width="1.0"/>
<path d="M507.83 348.66A4.5 4.5 0 0 1 507.83 357.66Z" fill="#a31010"/>
<circle cx="549.45" cy="290.37" r="4.5" fill="#fff" stroke="#a31010" stroke-width="1.0"/>
<path d="M549.45 285.87A4.5 4.5 0 0 1 549.45 294.87Z" fill="#a31010"/>
<circle cx="591.06" cy="322.34" r="4.5" fill="#fff" stroke="#a31010" stroke-width="1.0"/>
<path d="M591.06 317.84A4.5 4.5 0 0 1 591.06 326.84Z" fill="#a31010"/>
<circle cx="632.68" cy="329.87" r="4.5" fill="#fff" stroke="#a31010" stroke-width="1.0"/>
<path d="M632.68 325.37A4.5 4.5 0 0 1 632.68 334.37Z" fill="#a31010"/>
<circle cx="674.29" cy="367.08" r="4.5" fill="#fff" stroke="#a31010" stroke-width="1.0"/>
<path d="M674.29 362.58A4.5 4.5 0 0 1 674.29 371.58Z" fill="#a31010"/>
<path d="M424.6 409.55V408.51M424.6 416.51V415.48M421.1 409.55H428.1M421.1 415.48H428.1" stroke="#3c3c3c" stroke-width="1.4" fill="none"/>
<path d="M424.6 408.51V416.51" stroke="#3c3c3c" stroke-width="0.8" stroke-opacity="0.6"/>
<path d="M466.22 359.66V361.37M466.22 369.37V371.08M462.72 359.66H469.72M462.72 371.08H469.72" stroke="#3c3c3c" stroke-width="1.4" fill="none"/>
<path d="M466.22 361.37V369.37" stroke="#3c3c3c" stroke-width="0.8" stroke-opacity="0.6"/>
<path d="M507.83 347.45V349.16M507.83 357.16V358.86M504.33 347.45H511.33M504.33 358.86H511.33" stroke="#3c3c3c" stroke-width="1.4" fill="none"/>
<path d="M507.83 349.16V357.16" stroke="#3c3c3c" stroke-width="0.8" stroke-opacity="0.6"/>
<path d="M549.45 284.67V286.37M549.45 294.37V296.08M545.95 284.67H552.95M545.95 296.08H552.95" stroke="#3c3c3c" stroke-width="1.4" fill="none"/>
<path d="M549.45 286.37V294.37" stroke="#3c3c3c" stroke-width="0.8" stroke-opacity="0.6"/>
<path d="M591.06 316.17V318.34M591.06 326.34V328.5M587.56 316.17H594.56M587.56 328.5H594.56" stroke="#3c3c3c" stroke-width="1.4" fill="none"/>
<path d="M591.06 318.34V326.34" stroke="#3c3c3c" stroke-width="0.8" stroke-opacity="0.6"/>
<path d="M632.68 324.05V325.87M632.68 333.87V335.69M629.18 324.05H636.18M629.18 335.69H636.18" stroke="#3c3c3c" stroke-width="1.4" fill="none"/>
<path d="M632.68 325.87V333.87" stroke="#3c3c3c" stroke-width="0.8" stroke-opacity="0.6"/>
<path d="M674.29 358.64V363.08M674.29 371.08V375.53M670.79 358.64H677.79M670.79 375.53H677.79" stroke="#3c3c3c" stroke-width="1.4" fill="none"/>
<path d="M674.29 363.08V371.08" stroke="#3c3c3c" stroke-width="0.8" stroke-opacity="0.6"/>
<rect x="418.9" y="280.1" width="261.3" height="228.3" fill="none" stroke="#000" stroke-width="1.6"/>
<line x1="418.9" y1="508.4" x2="414.7" y2="508.4" stroke="#000" stroke-width="1.5"/>
<line x1="418.9" y1="451.32" x2="414.7" y2="451.32" stroke="#000" stroke-width="1.5"/>
<line x1="418.9" y1="394.25" x2="414.7" y2="394.25" stroke="#000" stroke-width="1.5"/>
<line x1="418.9" y1="337.17" x2="414.7" y2="337.17" stroke="#000" stroke-width="1.5"/>
<line x1="418.9" y1="280.1" x2="414.7" y2="280.1" stroke="#000" stroke-width="1.5"/>
<line x1="418.9" y1="479.86" x2="416.5" y2="479.86" stroke="#000" stroke-width="1.5"/>
<line x1="418.9" y1="422.79" x2="416.5" y2="422.79" stroke="#000" stroke-width="1.5"/>
<line x1="418.9" y1="365.71" x2="416.5" y2="365.71" stroke="#000" stroke-width="1.5"/>
<line x1="418.9" y1="308.64" x2="416.5" y2="308.64" stroke="#000" stroke-width="1.5"/>
<line x1="424.6" y1="508.4" x2="424.6" y2="512.6" stroke="#000" stroke-width="1.5"/>
<line x1="466.22" y1="508.4" x2="466.22" y2="512.6" stroke="#000" stroke-width="1.5"/>
<line x1="507.83" y1="508.4" x2="507.83" y2="512.6" stroke="#000" stroke-width="1.5"/>
<line x1="549.45" y1="508.4" x2="549.45" y2="512.6" stroke="#000" stroke-width="1.5"/>
<line x1="591.06" y1="508.4" x2="591.06" y2="512.6" stroke="#000" stroke-width="1.5"/>
<line x1="632.68" y1="508.4" x2="632.68" y2="512.6" stroke="#000" stroke-width="1.5"/>
<line x1="674.29" y1="508.4" x2="674.29" y2="512.6" stroke="#000" stroke-width="1.5"/>
<text x="410.9" y="513.3" font-size="16" text-anchor="end">150</text>
<text x="410.9" y="456.22" font-size="16" text-anchor="end">200</text>
<text x="410.9" y="399.15" font-size="16" text-anchor="end">250</text>
<text x="410.9" y="342.07" font-size="16" text-anchor="end">300</text>
<text x="410.9" y="285" font-size="16" text-anchor="end">350</text>
<text x="424.6" y="528.7" font-size="16" text-anchor="middle">0</text>
<text x="466.22" y="528.7" font-size="16" text-anchor="middle">5</text>
<text x="507.83" y="528.7" font-size="16" text-anchor="middle">10</text>
<text x="549.45" y="528.7" font-size="16" text-anchor="middle">15</text>
<text x="591.06" y="528.7" font-size="16" text-anchor="middle">20</text>
<text x="632.68" y="528.7" font-size="16" text-anchor="middle">25</text>
<text x="674.29" y="528.7" font-size="16" text-anchor="middle">30</text>
<text x="480.5" y="549.1" font-size="16" textLength="164" lengthAdjust="spacingAndGlyphs">Ti<tspan font-size="10.24" dy="3.84">3</tspan><tspan dy="-3.84">AlC</tspan><tspan font-size="10.24" dy="3.84">2</tspan><tspan dy="-3.84"> content (vol.%)</tspan></text>
<text transform="translate(381.6,383.25) rotate(-90)" font-size="16" text-anchor="middle" textLength="146.4" lengthAdjust="spacingAndGlyphs">Yield strength (MPa)</text>
<text x="349.4" y="283.8" font-size="18.3">(d)</text>
</svg></body></html>
